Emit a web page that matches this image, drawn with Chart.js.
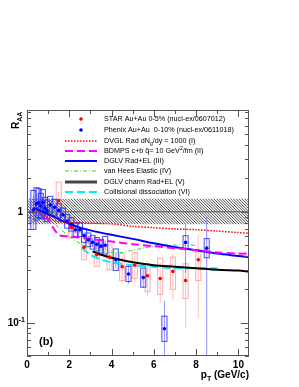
<!DOCTYPE html>
<html>
<head>
<meta charset="utf-8">
<script src="https://cdn.jsdelivr.net/npm/chart.js@4"></script>
<style>
  body { margin: 0; background: #fff; }
  canvas { display: block; }
</style>
</head>
<body>
<canvas id="raaChart" width="299" height="387"></canvas>
<script>
// STAR Au+Au 0-5% (nucl-ex/0607012)
const starPt = [1.5, 2.1, 2.7, 3.3, 3.9, 4.5, 5.1, 5.7, 6.3, 6.9, 7.5, 8.1];
const starRaa = [1.26, 0.72, 0.48, 0.41, 0.39, 0.32, 0.33, 0.265, 0.25, 0.29, 0.24, 0.37];
const starStat = [0.25, 0.12, 0.1, 0.08, 0.09, 0.09, 0.1, 0.09, 0.1, 0.13, 0.15, 0.26];
const starSysLo = [0.95, 0.58, 0.37, 0.32, 0.3, 0.24, 0.25, 0.19, 0.18, 0.2, 0.165, 0.24];
const starSysHi = [1.85, 0.88, 0.6, 0.52, 0.5, 0.42, 0.43, 0.34, 0.38, 0.39, 0.34, 0.46];

// Phenix Au+Au 0-10% (nucl-ex/0611018)
const phxPt = [0.3, 0.45, 0.55, 0.65, 0.75, 0.85, 0.95, 1.1, 1.3, 1.5, 1.7, 1.9, 2.1, 2.3, 2.5, 2.7,
  2.9, 3.1, 3.3, 3.5, 3.7, 4.2, 4.8, 5.5, 6.5, 7.5, 8.5];
const phxRaa = [1.04, 1.18, 1.2, 1.13, 1.22, 1.08, 1.02, 1.15, 1.1, 1.03, 0.94, 0.82, 0.77, 0.69, 0.69, 0.61,
  0.56, 0.53, 0.51, 0.49, 0.5, 0.37, 0.275, 0.255, 0.088, 0.53, 0.47];
const phxStat = [0.35, 0.25, 0.2, 0.15, 0.15, 0.12, 0.1, 0.08, 0.07, 0.06, 0.06, 0.05, 0.05, 0.05, 0.05, 0.05,
  0.05, 0.05, 0.05, 0.05, 0.05, 0.06, 0.05, 0.05, 0.07, 0.25, 0.43];
const phxSys = [0.5, 0.4, 0.35, 0.3, 0.3, 0.25, 0.25, 0.2, 0.18, 0.15, 0.15, 0.15, 0.15, 0.15, 0.15, 0.15,
  0.15, 0.15, 0.15, 0.15, 0.2, 0.25, 0.17, 0.22, 0.3, 0.15, 0.22];

// theory curves
const dvglPt = [0.3, 0.5, 1, 1.5, 2, 3, 4, 5, 6, 7, 8, 9, 10, 10.5];
const dvglRaa = [1.05, 1.0, 0.88, 0.82, 0.8, 0.79, 0.78, 0.74, 0.72, 0.7, 0.69, 0.67, 0.65, 0.64];
const bdmpsPt = [0.9, 1.5, 2, 3, 4, 5, 6, 7, 8, 9, 10, 10.5];
const bdmpsRaa = [0.92, 0.62, 0.6, 0.57, 0.54, 0.51, 0.49, 0.47, 0.45, 0.43, 0.42, 0.42];
const dglvPt = [0.3, 0.5, 1, 1.5, 2, 2.5, 3, 4, 5, 6, 7, 8, 9, 10, 10.5];
const dglvRaa = [1.08, 1.05, 0.95, 0.86, 0.78, 0.72, 0.68, 0.62, 0.57, 0.52, 0.48, 0.45, 0.42, 0.4, 0.39];
const heesPt = [0.3, 0.5, 1, 1.5, 2, 2.5, 3, 3.5, 4, 4.5, 5, 5.5, 6, 6.5, 7, 7.5, 8];
const heesRaa = [1.05, 1.0, 0.88, 0.72, 0.6, 0.52, 0.47, 0.44, 0.43, 0.43, 0.45, 0.47, 0.49, 0.5, 0.5, 0.5, 0.5];
const charmPt = [3.1, 3.5, 4, 5, 6, 7, 8, 9, 10, 10.5];
const charmRaa = [0.44, 0.41, 0.385, 0.35, 0.33, 0.32, 0.31, 0.3, 0.295, 0.29];
const collPt = [2.6, 3, 3.5, 4, 5, 6, 7, 8, 9];
const collRaa = [0.47, 0.41, 0.37, 0.35, 0.33, 0.32, 0.31, 0.31, 0.31];

// normalisation band around unity
const bandLo = 0.77;
const bandHi = 1.32;

const xTickLabels = [0, 2, 4, 6, 8, 10];

const FONT = '"Liberation Sans", Arial, Helvetica, sans-serif';

function pts(xs, ys) {
  return xs.map((x, i) => ({ x: x, y: ys[i] }));
}

const legendRows = [
  { kind: 'dot', color: '#ff0000', text: [['STAR Au+Au 0-5% (nucl-ex/0607012)']] },
  { kind: 'dot', color: '#0000ff', text: [['Phenix Au+Au  0-10% (nucl-ex/0611018)']] },
  { kind: 'line', color: '#ff0000', width: 1.5, dash: [1.5, 1.5], text: [['DVGL Rad dN'], ['g', 'sub'], ['/dy = 1000 (I)']] },
  { kind: 'line', color: '#ff00ff', width: 2, dash: [8, 4], text: [['BDMPS c+b q\u0302= 10 GeV'], ['2', 'sup'], ['/fm (II)']] },
  { kind: 'line', color: '#0000ff', width: 2, dash: [], text: [['DGLV Rad+EL (III)']] },
  { kind: 'line', color: '#33cc33', width: 1, dash: [4, 2, 1, 2], text: [['van Hees Elastic (IV)']] },
  { kind: 'line', color: '#444444', width: 3, dash: [], text: [['DGLV charm Rad+EL (V)']] },
  { kind: 'line', color: '#00eeee', width: 2, dash: [8, 4], text: [['Collisional dissociation (VI)']] }
];
const legendY = [119, 130, 141, 151, 161, 171, 182, 192];

function richText(ctx, parts, x, y, size, bold) {
  let cx = x;
  parts.forEach(p => {
    const s = p[1] === 'sub' || p[1] === 'sup' ? size * 0.7 : size;
    const dy = p[1] === 'sub' ? size * 0.3 : (p[1] === 'sup' ? -size * 0.4 : 0);
    ctx.font = (bold ? 'bold ' : '') + s + 'px ' + FONT;
    ctx.fillText(p[0], cx, y + dy);
    cx += ctx.measureText(p[0]).width;
  });
  return cx;
}

function richWidth(ctx, parts, size, bold) {
  let w = 0;
  parts.forEach(p => {
    const s = p[1] === 'sub' || p[1] === 'sup' ? size * 0.7 : size;
    ctx.font = (bold ? 'bold ' : '') + s + 'px ' + FONT;
    w += ctx.measureText(p[0]).width;
  });
  return w;
}

const errorPlugin = {
  id: 'errors',
  beforeDatasetsDraw(chart) {
    const ctx = chart.ctx;
    const xs = chart.scales.x, ys = chart.scales.y;
    const a = chart.chartArea;
    ctx.save();
    ctx.beginPath();
    ctx.rect(a.left, a.top, a.right - a.left, a.bottom - a.top);
    ctx.clip();

    // hatched band
    const yt = ys.getPixelForValue(bandHi), yb = ys.getPixelForValue(bandLo);
    ctx.save();
    ctx.beginPath();
    ctx.rect(a.left, yt, a.right - a.left, yb - yt);
    ctx.clip();
    ctx.strokeStyle = '#333';
    ctx.lineWidth = 0.9;
    ctx.beginPath();
    for (let x0 = a.left - 60; x0 < a.right + 60; x0 += 2.8) {
      ctx.moveTo(x0, yt);
      ctx.lineTo(x0 + (yb - yt), yb);
    }
    ctx.stroke();
    ctx.restore();

    const hw = 0.12;
    // STAR boxes and error bars
    ctx.lineWidth = 1;
    starPt.forEach((p, i) => {
      const px = xs.getPixelForValue(p);
      ctx.strokeStyle = 'rgba(255,140,140,0.55)';
      ctx.beginPath();
      ctx.moveTo(px, ys.getPixelForValue(starRaa[i] + starStat[i]));
      ctx.lineTo(px, ys.getPixelForValue(Math.max(starRaa[i] - starStat[i], 0.001)));
      ctx.stroke();
      ctx.strokeStyle = 'rgba(255,150,150,0.8)';
      const x1 = xs.getPixelForValue(p - hw), x2 = xs.getPixelForValue(p + hw);
      const y1 = ys.getPixelForValue(starSysHi[i]), y2 = ys.getPixelForValue(starSysLo[i]);
      ctx.strokeRect(x1, y1, x2 - x1, y2 - y1);
    });

    // Phenix boxes and error bars
    phxPt.forEach((p, i) => {
      const px = xs.getPixelForValue(p);
      ctx.strokeStyle = 'rgba(110,110,255,0.75)';
      ctx.beginPath();
      ctx.moveTo(px, ys.getPixelForValue(phxRaa[i] + phxStat[i]));
      ctx.lineTo(px, ys.getPixelForValue(Math.max(phxRaa[i] - phxStat[i], 0.001)));
      ctx.stroke();
      ctx.strokeStyle = 'rgba(40,40,255,0.85)';
      const x1 = xs.getPixelForValue(p - hw), x2 = xs.getPixelForValue(p + hw);
      const y1 = ys.getPixelForValue(phxRaa[i] * (1 + phxSys[i]));
      const y2 = ys.getPixelForValue(phxRaa[i] / (1 + phxSys[i]));
      ctx.strokeRect(x1, y1, x2 - x1, y2 - y1);
    });
    ctx.restore();
  },
  afterDatasetsDraw(chart) {
    const ctx = chart.ctx;
    const xs = chart.scales.x, ys = chart.scales.y;
    const a = chart.chartArea;
    ctx.save();
    ctx.strokeStyle = '#555';
    ctx.lineWidth = 1;
    ctx.strokeRect(a.left + 0.5, a.top + 0.5, a.right - a.left - 1, a.bottom - a.top - 1);

    // x ticks
    ctx.beginPath();
    for (let v = 0; v <= 10; v += 1) {
      const px = Math.round(xs.getPixelForValue(v)) + 0.5;
      const len = v % 2 === 0 ? 7 : 4;
      ctx.moveTo(px, a.bottom); ctx.lineTo(px, a.bottom - len);
      ctx.moveTo(px, a.top); ctx.lineTo(px, a.top + len);
    }
    // y ticks (log)
    [0.01, 0.1, 1].forEach(dec => {
      for (let m = 1; m <= 9; m++) {
        const v = dec * m;
        if (v < 0.05 || v > 8.3) continue;
        const py = Math.round(ys.getPixelForValue(v)) + 0.5;
        const len = m === 1 ? 8 : 4;
        ctx.moveTo(a.left, py); ctx.lineTo(a.left + len, py);
        ctx.moveTo(a.right, py); ctx.lineTo(a.right - len, py);
      }
    });
    ctx.stroke();

    // tick labels
    ctx.fillStyle = '#000';
    ctx.textBaseline = 'middle';
    ctx.textAlign = 'center';
    ctx.font = 'bold 10px ' + FONT;
    xTickLabels.forEach(v => {
      ctx.fillText(String(v), xs.getPixelForValue(v), a.bottom + 9);
    });
    ctx.textAlign = 'right';
    ctx.fillText('1', a.left - 4, ys.getPixelForValue(1));
    const y01 = ys.getPixelForValue(0.1);
    ctx.font = 'bold 7px ' + FONT;
    ctx.fillText('-1', a.left - 2, y01 - 3);
    const wSup = ctx.measureText('-1').width;
    ctx.font = 'bold 10px ' + FONT;
    ctx.fillText('10', a.left - 2 - wSup, y01 + 1);

    // axis titles
    ctx.textAlign = 'left';
    ctx.textBaseline = 'alphabetic';
    const xt = [['p'], ['T', 'sub'], [' (GeV/c)']];
    const wx = richWidth(ctx, xt, 10, true);
    richText(ctx, xt, a.right - wx, 378, 10, true);

    ctx.save();
    ctx.translate(19, 129);
    ctx.rotate(-Math.PI / 2);
    richText(ctx, [['R'], ['AA', 'sub']], 0, 0, 10, true);
    ctx.restore();

    ctx.font = 'bold 11px ' + FONT;
    ctx.textBaseline = 'middle';
    ctx.fillText('(b)', 39, 342);

    // legend
    legendRows.forEach((row, i) => {
      const y = legendY[i];
      if (row.kind === 'dot') {
        ctx.fillStyle = row.color;
        ctx.beginPath();
        ctx.arc(81, y, 1.8, 0, Math.PI * 2);
        ctx.fill();
      } else {
        ctx.strokeStyle = row.color;
        ctx.lineWidth = row.width;
        ctx.setLineDash(row.dash);
        ctx.beginPath();
        ctx.moveTo(65, y); ctx.lineTo(97, y);
        ctx.stroke();
        ctx.setLineDash([]);
      }
      ctx.fillStyle = '#000';
      ctx.textBaseline = 'middle';
      richText(ctx, row.text, 104, y, 7.2, false);
    });
    ctx.restore();
  }
};

function curve(xs, ys, color, width, dash) {
  return {
    data: pts(xs, ys), showLine: true, pointRadius: 0, borderColor: color,
    borderWidth: width, borderDash: dash, fill: false, tension: 0.3, order: 2
  };
}

new Chart(document.getElementById('raaChart'), {
  type: 'scatter',
  data: {
    datasets: [
      { data: pts(starPt, starRaa), pointRadius: 1.8, backgroundColor: '#ff0000', borderWidth: 0, order: 0 },
      { data: pts(phxPt, phxRaa), pointRadius: 1.8, backgroundColor: '#0000ff', borderWidth: 0, order: 0 },
      curve(dvglPt, dvglRaa, '#ff0000', 1.5, [1.5, 1.5]),
      curve(bdmpsPt, bdmpsRaa, '#ff00ff', 2, [8, 4]),
      curve(dglvPt, dglvRaa, '#0000ff', 2, []),
      curve(heesPt, heesRaa, '#33cc33', 1, [4, 2, 1, 2]),
      curve(charmPt, charmRaa, '#000000', 2, []),
      curve(collPt, collRaa, '#00eeee', 2, [8, 4]),
      curve([0, 10.5], [1, 1], '#555555', 1, [])
    ]
  },
  options: {
    responsive: false,
    animation: false,
    devicePixelRatio: 1,
    layout: { padding: { left: 27, right: 50, top: 110, bottom: 31 } },
    scales: {
      x: { type: 'linear', min: 0, max: 10.5, display: false },
      y: { type: 'logarithmic', min: 0.05, max: 8.3, display: false }
    },
    plugins: { legend: { display: false }, tooltip: { enabled: false } }
  },
  plugins: [errorPlugin]
});
</script>
</body>
</html>
